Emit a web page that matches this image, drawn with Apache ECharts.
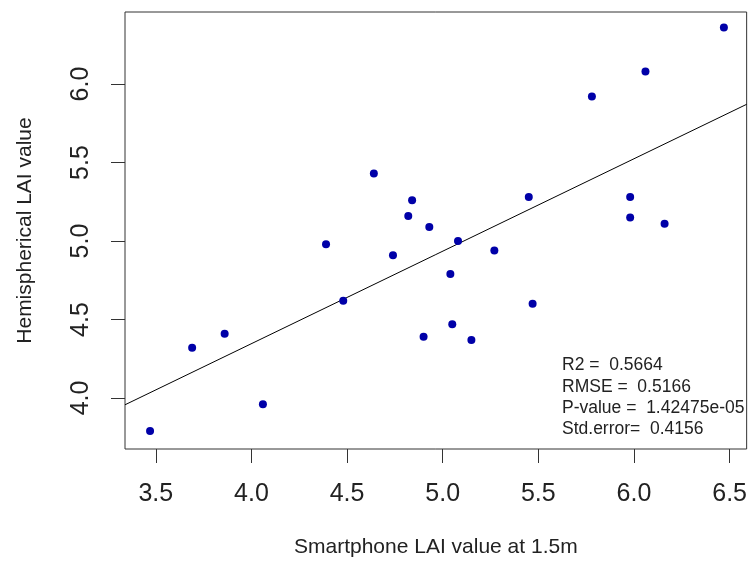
<!DOCTYPE html>
<html>
<head>
    <meta charset="utf-8">
    <title>LAI scatter</title>
</head>
<body style="margin:0;background:#fff;">
<div id="main" style="width:750px;height:573px;"></div>
</body>
<script src="https://cdn.jsdelivr.net/npm/echarts@6/dist/echarts.min.js" type="text/javascript"></script>
<script type="text/javascript">

// smartphone LAI (x) and hemispherical LAI (y)
var smartphone=[6.47,6.06,5.78,4.64,5.45,5.98,4.84,4.82,5.98,6.16,4.93,5.08,4.39,
                4.74,5.27,5.04,5.47,4.48,5.05,4.90,5.15,4.06,3.69,3.86,3.47];
var hemispherical=[6.36,6.08,5.92,5.43,5.28,5.28,5.26,5.16,5.15,5.11,5.09,5.00,4.98,
                4.91,4.94,4.79,4.60,4.62,4.47,4.39,4.37,3.96,4.32,4.41,3.79];

// fitted line
var fitIntercept=1.99;
var fitSlope=0.589;

var xTicks=[3.5,4.0,4.5,5.0,5.5,6.0,6.5];
var yTicks=[4.0,4.5,5.0,5.5,6.0];
var xRange=[3.339,6.589];
var yRange=[3.675,6.459];

var stats=['R2 =  0.5664','RMSE =  0.5166','P-value =  1.42475e-05','Std.error=  0.4156'];

var font='"Liberation Sans", Arial, sans-serif';
var textColor='#222';

var points=[];
for(var i=0;i<smartphone.length;i++)
    points.push([smartphone[i],hemispherical[i]]);

var fitLine=[
    [xRange[0],fitIntercept+fitSlope*xRange[0]],
    [xRange[1],fitIntercept+fitSlope*xRange[1]]
];

var myChart=echarts.init(document.getElementById('main'));

var option={
    animation:false,
    grid:{
        left:125,
        top:12,
        right:1,
        bottom:124,
        show:true,
        borderColor:'#333',
        borderWidth:1
    },
    xAxis:{
        type:'value',
        min:xRange[0],
        max:xRange[1],
        name:'Smartphone LAI value at 1.5m',
        nameLocation:'middle',
        nameGap:88,
        nameTextStyle:{fontFamily:font,fontSize:21,color:textColor},
        axisLine:{show:false},
        splitLine:{show:false},
        axisTick:{
            show:true,
            inside:false,
            length:14,
            customValues:xTicks,
            lineStyle:{color:'#333',width:1}
        },
        axisLabel:{
            customValues:xTicks,
            margin:33,
            fontFamily:font,
            fontSize:25,
            color:textColor,
            formatter:function(v){return v.toFixed(1);}
        }
    },
    yAxis:{
        type:'value',
        min:yRange[0],
        max:yRange[1],
        name:'Hemispherical LAI value',
        nameLocation:'middle',
        nameGap:89,
        nameTextStyle:{fontFamily:font,fontSize:21,color:textColor},
        axisLine:{show:false},
        splitLine:{show:false},
        axisTick:{
            show:true,
            inside:false,
            length:14,
            customValues:yTicks,
            lineStyle:{color:'#333',width:1}
        },
        axisLabel:{
            customValues:yTicks,
            rotate:90,
            margin:31,
            fontFamily:font,
            fontSize:25,
            color:textColor,
            formatter:function(v){return v.toFixed(1);}
        }
    },
    graphic:[{
        type:'text',
        left:562,
        top:355,
        style:{
            text:stats.join('\n'),
            font:'17.5px '+font,
            lineHeight:21.3,
            fill:textColor
        }
    }],
    series:[{
        name:'fit',
        type:'line',
        data:fitLine,
        symbol:'none',
        lineStyle:{color:'#000',width:1},
        z:2
    },{
        name:'LAI',
        type:'scatter',
        data:points,
        symbol:'circle',
        symbolSize:8,
        itemStyle:{color:'#0000a8',opacity:1},
        z:3
    }]
};

myChart.setOption(option);
</script>
</html>
